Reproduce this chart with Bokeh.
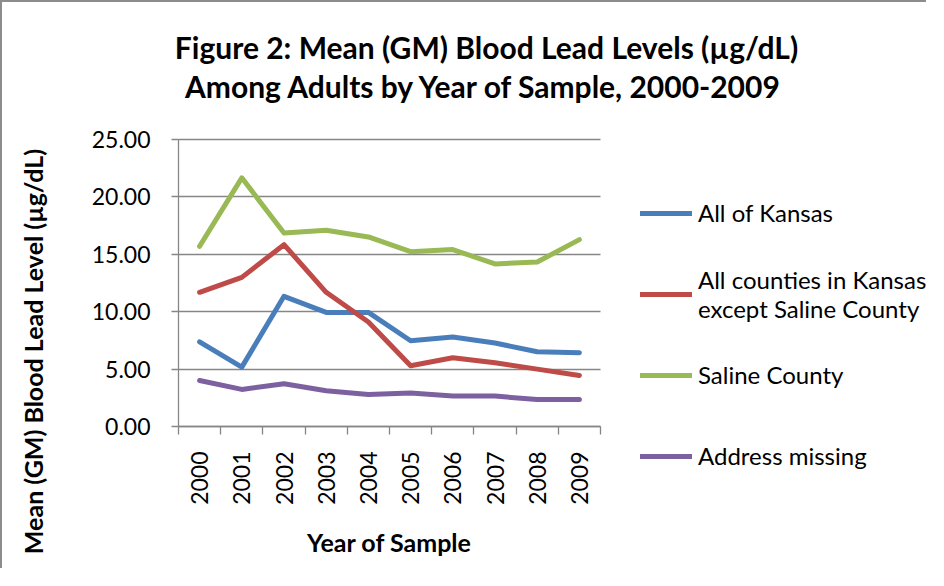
import math
from bokeh.plotting import figure
from bokeh.models import (Range1d, FixedTicker, NumeralTickFormatter, Label,
                          Legend, LegendItem)
from bokeh.embed import file_html
from bokeh.resources import INLINE

years = [2000, 2001, 2002, 2003, 2004, 2005, 2006, 2007, 2008, 2009]
all_kansas = [7.38, 5.17, 11.34, 9.94, 9.94, 7.47, 7.79, 7.27, 6.51, 6.42]
except_saline = [11.69, 12.99, 15.84, 11.69, 9.10, 5.29, 5.99, 5.55, 5.00, 4.45]
saline = [15.70, 21.66, 16.86, 17.09, 16.51, 15.23, 15.41, 14.16, 14.33, 16.28]
address_missing = [4.01, 3.23, 3.72, 3.11, 2.79, 2.91, 2.65, 2.65, 2.35, 2.35]
y_ticks = [0, 5, 10, 15, 20, 25]

series_names = ["All of Kansas", "All counties in Kansas\nexcept Saline County",
                "Saline County", "Address missing"]
series_values = [all_kansas, except_saline, saline, address_missing]
series_colors = ["#4A7EBB", "#BE4B48", "#98B954", "#7D60A0"]

title_lines = ["Figure 2: Mean (GM) Blood Lead Levels (\u00b5g/dL)",
               "Among Adults by Year of Sample, 2000-2009"]
y_label = "Mean (GM) Blood Lead Level (\u00b5g/dL)"
x_label = "Year of Sample"

FONT = "Lato"
GRAY = "#868686"

# ---- layout (pixels) ----
W, H = 926, 568            # canvas; the whole canvas is the plotting frame
PLOT_L, PLOT_R = 176, 598  # data area, in canvas pixels from the left
PLOT_T, PLOT_B = 137, 424  # data area, in canvas pixels from the top

x_lo, x_hi = years[0] - 0.5, years[-1] + 0.5
y_lo, y_hi = y_ticks[0], y_ticks[-1]
px_x = (PLOT_R - PLOT_L) / (x_hi - x_lo)
px_y = (PLOT_B - PLOT_T) / (y_hi - y_lo)
x_range = Range1d(x_lo - PLOT_L / px_x, x_hi + (W - PLOT_R) / px_x)
y_range = Range1d(y_lo - (H - PLOT_B) / px_y, y_hi + PLOT_T / px_y)

p = figure(width=W, height=H, output_backend="svg", toolbar_location=None,
           x_range=x_range, y_range=y_range,
           min_border_left=0, min_border_right=0,
           min_border_top=0, min_border_bottom=0)
p.styles = {"border-top": "2px solid #8c8c8c", "border-left": "2px solid #8c8c8c"}
p.title.visible = False
p.outline_line_color = None
p.background_fill_color = "white"
p.border_fill_color = "white"
p.xgrid.visible = False
p.ygrid.grid_line_color = GRAY
p.ygrid.grid_line_width = 1.3
p.ygrid.cross_bounds = (x_lo, x_hi)

# y axis
p.yaxis.fixed_location = x_lo
p.yaxis.bounds = (y_lo, y_hi)
p.yaxis.ticker = FixedTicker(ticks=y_ticks)
p.yaxis.formatter = NumeralTickFormatter(format="0.00")
p.yaxis.axis_line_color = GRAY
p.yaxis.axis_line_width = 1.3
p.yaxis.major_tick_line_color = GRAY
p.yaxis.major_tick_line_width = 1.3
p.yaxis.major_tick_out = 7
p.yaxis.major_tick_in = 0
p.yaxis.minor_tick_line_color = None
p.yaxis.major_label_standoff = 21
p.yaxis.major_label_text_font = FONT
p.yaxis.major_label_text_font_size = "23px"
p.yaxis.major_label_text_color = "black"

# x axis
bounds = [y - 0.5 for y in years] + [years[-1] + 0.5]
p.xaxis.fixed_location = y_lo
p.xaxis.bounds = (x_lo, x_hi)
p.xaxis.ticker = FixedTicker(ticks=years, minor_ticks=bounds)
p.xaxis.axis_line_color = GRAY
p.xaxis.axis_line_width = 1.3
p.xaxis.major_tick_line_color = None
p.xaxis.major_tick_out = 0
p.xaxis.major_tick_in = 0
p.xaxis.minor_tick_line_color = GRAY
p.xaxis.minor_tick_line_width = 1.3
p.xaxis.minor_tick_out = 8
p.xaxis.minor_tick_in = 0
p.xaxis.major_label_orientation = math.pi / 2
p.xaxis.major_label_standoff = 17
p.xaxis.major_label_text_font = FONT
p.xaxis.major_label_text_font_size = "23px"
p.xaxis.major_label_text_color = "black"
p.xaxis.axis_label = x_label
p.xaxis.axis_label_text_font = FONT
p.xaxis.axis_label_text_font_size = "25px"
p.xaxis.axis_label_text_font_style = "bold"
p.xaxis.axis_label_text_color = "black"
p.xaxis.axis_label_standoff = 19

renderers = []
for name, vals, col in zip(series_names, series_values, series_colors):
    r = p.line(years, vals, line_color=col, line_width=5,
               line_cap="round", line_join="round")
    renderers.append(r)

legend = Legend(items=[LegendItem(label=n, renderers=[r])
                       for n, r in zip(series_names, renderers)],
                location=(638, 84), orientation="vertical",
                padding=0, margin=0, spacing=20, glyph_width=52, glyph_height=28,
                label_height=61, label_standoff=6, label_text_font=FONT,
                label_text_font_size="24px", label_text_color="black",
                border_line_color=None, background_fill_alpha=0)
p.add_layout(legend)

for txt, x, y in zip(title_lines, [484, 482], [524, 485]):
    p.add_layout(Label(x=x, y=y, x_units="screen", y_units="screen", text=txt,
                       text_align="center", text_baseline="middle",
                       text_font=FONT, text_font_size="30px",
                       text_font_style="bold", text_color="black"))

p.add_layout(Label(x=30, y=219, x_units="screen", y_units="screen", text=y_label,
                   angle=math.pi / 2, text_align="center", text_baseline="middle",
                   text_font=FONT, text_font_size="25px", text_font_style="bold",
                   text_color="black"))

open("out.html", "w").write(file_html(p, INLINE))
